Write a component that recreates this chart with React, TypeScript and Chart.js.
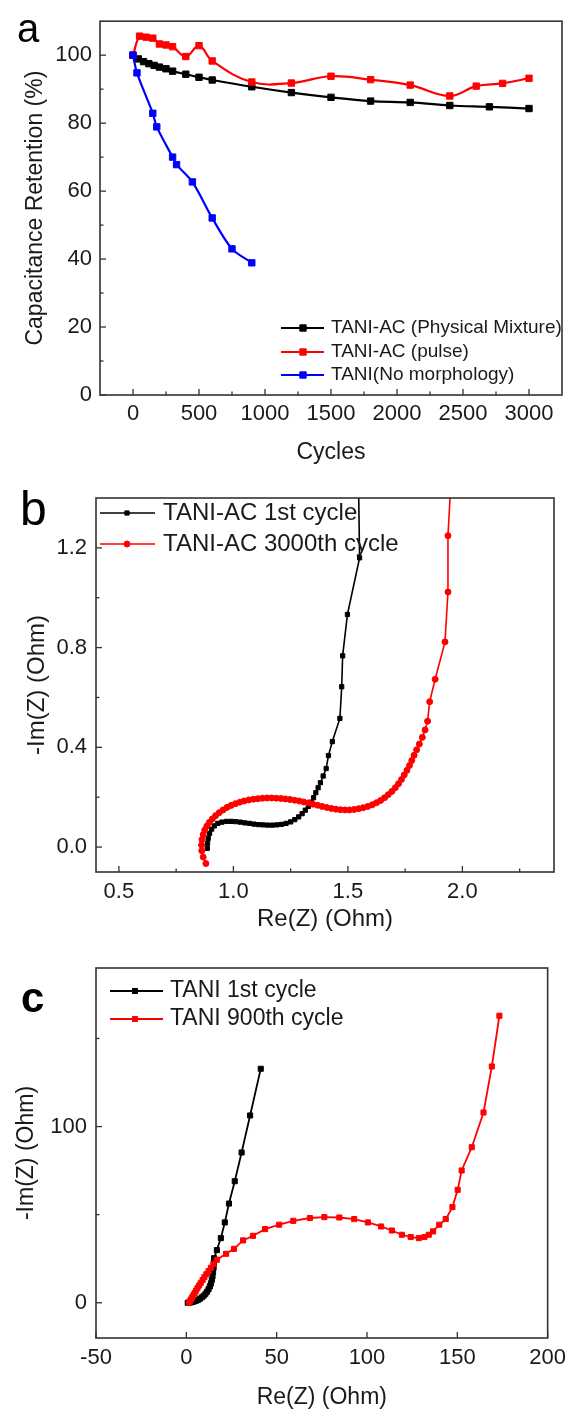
import React, { useEffect, useRef } from "react";
import { Chart, registerables } from "chart.js";

Chart.register(...registerables);

const FAMILY = "'Liberation Sans', Arial, Helvetica, sans-serif";
const INK = "#1a1a1a";
const FRAME = "#333333";
const BLACK = "#000000";
const RED = "#ff0000";
const BLUE = "#0000ff";

// ---------------- Panel a: capacitance retention ----------------
const A_X_TICKS = [0, 500, 1000, 1500, 2000, 2500, 3000];
const A_X_MINOR = [250, 750, 1250, 1750, 2250, 2750];
const A_Y_TICKS = [0, 20, 40, 60, 80, 100];
const A_Y_MINOR = [10, 30, 50, 70, 90];

const A_MIX_CYCLES = [0, 40, 80, 120, 160, 200, 250, 300, 400, 500, 600, 900, 1200, 1500, 1800, 2100, 2400, 2700, 3000];
const A_MIX = [100, 98.9, 98.1, 97.5, 97.0, 96.5, 96.0, 95.3, 94.4, 93.5, 92.7, 90.7, 89.0, 87.6, 86.5, 86.1, 85.2, 84.8, 84.3];

const A_PULSE_CYCLES = [0, 50, 100, 150, 200, 250, 300, 400, 500, 600, 900, 1200, 1500, 1800, 2100, 2400, 2600, 2800, 3000];
const A_PULSE = [100, 105.6, 105.3, 105.0, 103.3, 103.0, 102.5, 99.6, 102.8, 98.3, 92.1, 91.8, 93.8, 92.8, 91.2, 88.0, 90.9, 91.7, 93.2];

const A_TANI_CYCLES = [0, 30, 150, 180, 300, 330, 450, 600, 750, 900];
const A_TANI = [100, 94.8, 82.9, 78.9, 70.0, 67.8, 62.7, 52.1, 43.0, 38.9];

// ---------------- Panel b: TANI-AC Nyquist ----------------
const B_X_TICKS = [0.5, 1.0, 1.5, 2.0];
const B_X_MINOR = [0.75, 1.25, 1.75, 2.25];
const B_Y_TICKS = [0.0, 0.4, 0.8, 1.2];
const B_Y_MINOR = [0.2, 0.6, 1.0];

const B_FIRST_RE = [0.886, 0.887, 0.890, 0.896, 0.905, 0.917, 0.932, 0.950, 0.970, 0.990, 1.010, 1.030, 1.050, 1.070, 1.090, 1.110, 1.130, 1.150, 1.170, 1.190, 1.210, 1.230, 1.250, 1.268, 1.285, 1.300, 1.314, 1.327, 1.339, 1.350, 1.360, 1.370, 1.380, 1.392, 1.405, 1.415, 1.432, 1.465, 1.473, 1.477, 1.498, 1.551, 1.545];
const B_FIRST_IM = [-0.005, 0.015, 0.035, 0.055, 0.072, 0.085, 0.095, 0.100, 0.103, 0.103, 0.102, 0.100, 0.097, 0.095, 0.092, 0.090, 0.089, 0.088, 0.088, 0.089, 0.091, 0.095, 0.101, 0.110, 0.121, 0.134, 0.148, 0.163, 0.180, 0.198, 0.218, 0.238, 0.258, 0.285, 0.315, 0.367, 0.423, 0.516, 0.643, 0.767, 0.933, 1.160, 1.55];

const B_LAST_RE = [0.880, 0.868, 0.862, 0.861, 0.863, 0.868, 0.875, 0.884, 0.895, 0.908, 0.922, 0.938, 0.955, 0.972, 0.990, 1.009, 1.028, 1.047, 1.067, 1.087, 1.107, 1.127, 1.147, 1.167, 1.187, 1.207, 1.227, 1.247, 1.267, 1.287, 1.307, 1.327, 1.347, 1.367, 1.387, 1.407, 1.427, 1.447, 1.467, 1.487, 1.507, 1.527, 1.547, 1.567, 1.587, 1.607, 1.625, 1.643, 1.660, 1.676, 1.692, 1.707, 1.721, 1.734, 1.746, 1.758, 1.769, 1.779, 1.789, 1.800, 1.812, 1.825, 1.837, 1.848, 1.857, 1.881, 1.924, 1.937, 1.937, 1.955];
const B_LAST_IM = [-0.066, -0.040, -0.015, 0.008, 0.030, 0.050, 0.068, 0.084, 0.099, 0.113, 0.126, 0.138, 0.149, 0.159, 0.167, 0.174, 0.180, 0.185, 0.189, 0.192, 0.194, 0.196, 0.197, 0.197, 0.196, 0.195, 0.193, 0.191, 0.188, 0.185, 0.181, 0.177, 0.172, 0.168, 0.163, 0.159, 0.155, 0.152, 0.150, 0.149, 0.149, 0.151, 0.154, 0.158, 0.163, 0.170, 0.178, 0.187, 0.198, 0.210, 0.223, 0.238, 0.254, 0.271, 0.289, 0.308, 0.327, 0.347, 0.368, 0.390, 0.413, 0.440, 0.470, 0.505, 0.583, 0.673, 0.823, 1.023, 1.249, 1.55];

// ---------------- Panel c: TANI Nyquist ----------------
const C_X_TICKS = [-50, 0, 50, 100, 150, 200];
const C_X_MINOR: number[] = [];
const C_Y_TICKS = [0, 100];
const C_Y_MINOR = [50, 150];

const C_FIRST_RE = [0.8, 1.5, 2.3, 3.2, 4.2, 5.3, 6.4, 7.5, 8.6, 9.6, 10.6, 11.5, 12.3, 13.0, 13.6, 14.1, 14.5, 14.8, 15.1, 15.2, 15.4, 16.9, 19.1, 21.3, 23.6, 26.8, 30.6, 35.3, 41.2];
const C_FIRST_IM = [0.0, 0.1, 0.2, 0.4, 0.7, 1.1, 1.6, 2.3, 3.1, 4.0, 5.1, 6.3, 7.7, 9.3, 11.0, 12.9, 15.0, 17.3, 20.0, 22.6, 25.3, 29.9, 36.7, 45.6, 56.3, 69.0, 85.3, 106.3, 132.8];

const C_LAST_RE = [1.5, 2.0, 2.6, 3.2, 3.9, 4.6, 5.4, 6.2, 7.1, 8.0, 9.0, 10.0, 11.1, 12.3, 13.6, 15.0, 16.9, 22.0, 26.4, 31.4, 36.9, 43.6, 51.4, 59.2, 68.4, 76.4, 84.7, 92.9, 100.5, 107.8, 113.8, 119.3, 124.2, 128.7, 131.8, 134.2, 136.6, 140.0, 143.6, 147.3, 150.2, 152.4, 158.0, 164.5, 169.1, 173.3];
const C_LAST_IM = [0.0, 0.9, 1.9, 3.0, 4.2, 5.5, 6.9, 8.3, 9.8, 11.3, 12.9, 14.5, 16.2, 18.0, 19.9, 22.0, 24.4, 27.8, 30.6, 35.4, 38.0, 41.8, 44.3, 46.5, 48.1, 48.6, 48.4, 47.5, 45.6, 43.3, 41.0, 38.6, 37.3, 36.7, 37.3, 38.6, 40.5, 44.3, 47.5, 54.3, 64.1, 75.1, 88.3, 108.0, 134.1, 162.9];

// ---------------- helpers ----------------
function series(label: string, xs: number[], ys: number[], color: string, style: string, radius: number, lw: number, tension: number, order: number) {
  return {
    label,
    data: xs.map((x, i) => ({ x, y: ys[i] })),
    borderColor: color,
    backgroundColor: color,
    pointBackgroundColor: color,
    pointBorderColor: color,
    pointBorderWidth: 1,
    pointStyle: style,
    pointRadius: radius,
    borderWidth: lw,
    tension,
    order,
    fill: false,
  };
}

function drawMarker(ctx: CanvasRenderingContext2D, style: string, x: number, y: number, r: number, color: string) {
  ctx.fillStyle = color;
  ctx.strokeStyle = color;
  ctx.lineWidth = 1;
  ctx.beginPath();
  if (style === "circle") {
    ctx.arc(x, y, r, 0, Math.PI * 2);
  } else {
    const s = r / Math.SQRT2;
    ctx.rect(x - s, y - s, 2 * s, 2 * s);
  }
  ctx.fill();
  ctx.stroke();
}

type DecorCfg = {
  xMajor: number[];
  xMinor: number[];
  yMajor: number[];
  yMinor: number[];
  legend: { x1: number; x2: number; xm: number; xt: number; ys: number[]; font: string };
  letter: { text: string; x: number; y: number; font: string };
};

function decor(cfg: DecorCfg) {
  return {
    id: "decor",
    afterDraw(chart: any) {
      const { ctx, chartArea: a, scales } = chart;
      const sx = scales.x;
      const sy = scales.y;
      ctx.save();
      const seg = (x1: number, y1: number, x2: number, y2: number) => {
        ctx.beginPath();
        ctx.moveTo(x1, y1);
        ctx.lineTo(x2, y2);
        ctx.stroke();
      };
      ctx.strokeStyle = FRAME;
      ctx.lineWidth = 1.3;
      cfg.xMajor.forEach((v) => { const p = sx.getPixelForValue(v); seg(p, a.bottom, p, a.bottom - 6); });
      cfg.xMinor.forEach((v) => { const p = sx.getPixelForValue(v); seg(p, a.bottom, p, a.bottom - 3.5); });
      cfg.yMajor.forEach((v) => { const p = sy.getPixelForValue(v); seg(a.left, p, a.left + 6, p); });
      cfg.yMinor.forEach((v) => { const p = sy.getPixelForValue(v); seg(a.left, p, a.left + 3.5, p); });
      ctx.lineWidth = 1.6;
      ctx.strokeRect(a.left, a.top, a.right - a.left, a.bottom - a.top);

      const L = cfg.legend;
      chart.data.datasets.forEach((ds: any, i: number) => {
        const y = L.ys[i];
        ctx.strokeStyle = ds.borderColor;
        ctx.lineWidth = ds.borderWidth;
        seg(L.x1, y, L.x2, y);
        drawMarker(ctx, ds.pointStyle, L.xm, y, ds.pointRadius, ds.borderColor);
        ctx.fillStyle = INK;
        ctx.font = L.font;
        ctx.textAlign = "left";
        ctx.textBaseline = "middle";
        ctx.fillText(ds.label, L.xt, y);
      });

      ctx.fillStyle = "#000";
      ctx.font = cfg.letter.font;
      ctx.textAlign = "left";
      ctx.textBaseline = "alphabetic";
      ctx.fillText(cfg.letter.text, cfg.letter.x, cfg.letter.y);
      ctx.restore();
    },
  };
}

type AxisSpec = {
  min: number;
  max: number;
  ticks: number[];
  fmt: (v: number) => string;
  title: string;
  titleSize: number;
  titlePad: number;
  size: number;
  labelPad: number;
};

function axis(spec: AxisSpec, horizontal: boolean) {
  return {
    type: "linear",
    min: spec.min,
    max: spec.max,
    afterBuildTicks: (s: any) => {
      s.ticks = spec.ticks.map((v) => ({ value: v }));
    },
    afterFit: (s: any) => {
      if (horizontal) s.height = spec.size;
      else s.width = spec.size;
    },
    grid: { display: false, drawTicks: false },
    border: { display: false },
    ticks: {
      autoSkip: false,
      maxRotation: 0,
      minRotation: 0,
      padding: spec.labelPad,
      color: INK,
      font: { family: FAMILY, size: 22 },
      callback: (v: any) => spec.fmt(Number(v)),
    },
    title: {
      display: true,
      text: spec.title,
      color: INK,
      font: { family: FAMILY, size: spec.titleSize },
      padding: horizontal ? { top: 0, bottom: spec.titlePad } : { top: spec.titlePad, bottom: 0 },
    },
  };
}

function buildConfig(opts: {
  datasets: any[];
  x: AxisSpec;
  y: AxisSpec;
  padTop: number;
  padRight: number;
  decor: DecorCfg;
}) {
  return {
    type: "line",
    data: { datasets: opts.datasets },
    options: {
      responsive: false,
      animation: false,
      events: [],
      layout: { padding: { top: opts.padTop, right: opts.padRight, left: 0, bottom: 0 } },
      plugins: { legend: { display: false }, tooltip: { enabled: false }, title: { display: false } },
      scales: { x: axis(opts.x, true), y: axis(opts.y, false) },
    },
    plugins: [decor(opts.decor)],
  };
}

const intFmt = (v: number) => String(Math.round(v));
const oneDec = (v: number) => v.toFixed(1);

function configA() {
  return buildConfig({
    datasets: [
      series("TANI-AC (Physical Mixture)", A_MIX_CYCLES, A_MIX, BLACK, "rect", 4.5, 2.2, 0.35, 3),
      series("TANI-AC (pulse)", A_PULSE_CYCLES, A_PULSE, RED, "rect", 4.5, 2.2, 0.4, 2),
      series("TANI(No morphology)", A_TANI_CYCLES, A_TANI, BLUE, "rect", 4.5, 2.2, 0.3, 1),
    ],
    x: { min: -250, max: 3250, ticks: A_X_TICKS, fmt: intFmt, title: "Cycles", titleSize: 23, titlePad: 4, size: 75, labelPad: 6 },
    y: { min: 0, max: 110, ticks: A_Y_TICKS, fmt: intFmt, title: "Capacitance Retention (%)", titleSize: 23, titlePad: 22, size: 100, labelPad: 8 },
    padTop: 20,
    padRight: 11,
    decor: {
      xMajor: A_X_TICKS, xMinor: A_X_MINOR, yMajor: A_Y_TICKS, yMinor: A_Y_MINOR,
      legend: { x1: 281, x2: 324, xm: 303, xt: 331, ys: [328, 352, 375], font: `19px ${FAMILY}` },
      letter: { text: "a", x: 17, y: 42, font: `40px ${FAMILY}` },
    },
  });
}

function configB() {
  return buildConfig({
    datasets: [
      series("TANI-AC 1st cycle", B_FIRST_RE, B_FIRST_IM, BLACK, "rect", 3, 1.6, 0, 2),
      series("TANI-AC 3000th cycle", B_LAST_RE, B_LAST_IM, RED, "circle", 3, 1.6, 0, 1),
    ],
    x: { min: 0.4, max: 2.4, ticks: B_X_TICKS, fmt: oneDec, title: "Re(Z) (Ohm)", titleSize: 24, titlePad: 6, size: 68, labelPad: 7 },
    y: { min: -0.1, max: 1.4, ticks: B_Y_TICKS, fmt: oneDec, title: "-Im(Z) (Ohm)", titleSize: 24, titlePad: 23, size: 96, labelPad: 9 },
    padTop: 28,
    padRight: 19,
    decor: {
      xMajor: B_X_TICKS, xMinor: B_X_MINOR, yMajor: B_Y_TICKS, yMinor: B_Y_MINOR,
      legend: { x1: 100, x2: 155, xm: 127, xt: 163, ys: [43, 74], font: `24px ${FAMILY}` },
      letter: { text: "b", x: 20, y: 55, font: `48px ${FAMILY}` },
    },
  });
}

function configC() {
  return buildConfig({
    datasets: [
      series("TANI 1st cycle", C_FIRST_RE, C_FIRST_IM, BLACK, "rect", 3.6, 1.8, 0, 2),
      series("TANI 900th cycle", C_LAST_RE, C_LAST_IM, RED, "rect", 3.6, 1.8, 0, 1),
    ],
    x: { min: -50, max: 200, ticks: C_X_TICKS, fmt: intFmt, title: "Re(Z) (Ohm)", titleSize: 23, titlePad: 1, size: 74, labelPad: 7 },
    y: { min: -20, max: 190, ticks: C_Y_TICKS, fmt: intFmt, title: "-Im(Z) (Ohm)", titleSize: 23, titlePad: 13, size: 96, labelPad: 9 },
    padTop: 28,
    padRight: 23,
    decor: {
      xMajor: C_X_TICKS, xMinor: C_X_MINOR, yMajor: C_Y_TICKS, yMinor: C_Y_MINOR,
      legend: { x1: 110, x2: 163, xm: 135, xt: 170, ys: [51, 79], font: `23px ${FAMILY}` },
      letter: { text: "c", x: 21, y: 72, font: `bold 42px ${FAMILY}` },
    },
  });
}

function Panel({ height, build }: { height: number; build: () => any }) {
  const ref = useRef<HTMLCanvasElement>(null);
  useEffect(() => {
    const chart = new Chart(ref.current as HTMLCanvasElement, build());
    return () => chart.destroy();
  }, []);
  return <canvas ref={ref} width={573} height={height} style={{ display: "block", width: 573, height }} />;
}

export default function App() {
  return (
    <div style={{ position: "absolute", left: 0, top: 0, width: 573, height: 1412, background: "#ffffff" }}>
      <Panel height={470} build={configA} />
      <Panel height={470} build={configB} />
      <Panel height={472} build={configC} />
    </div>
  );
}
